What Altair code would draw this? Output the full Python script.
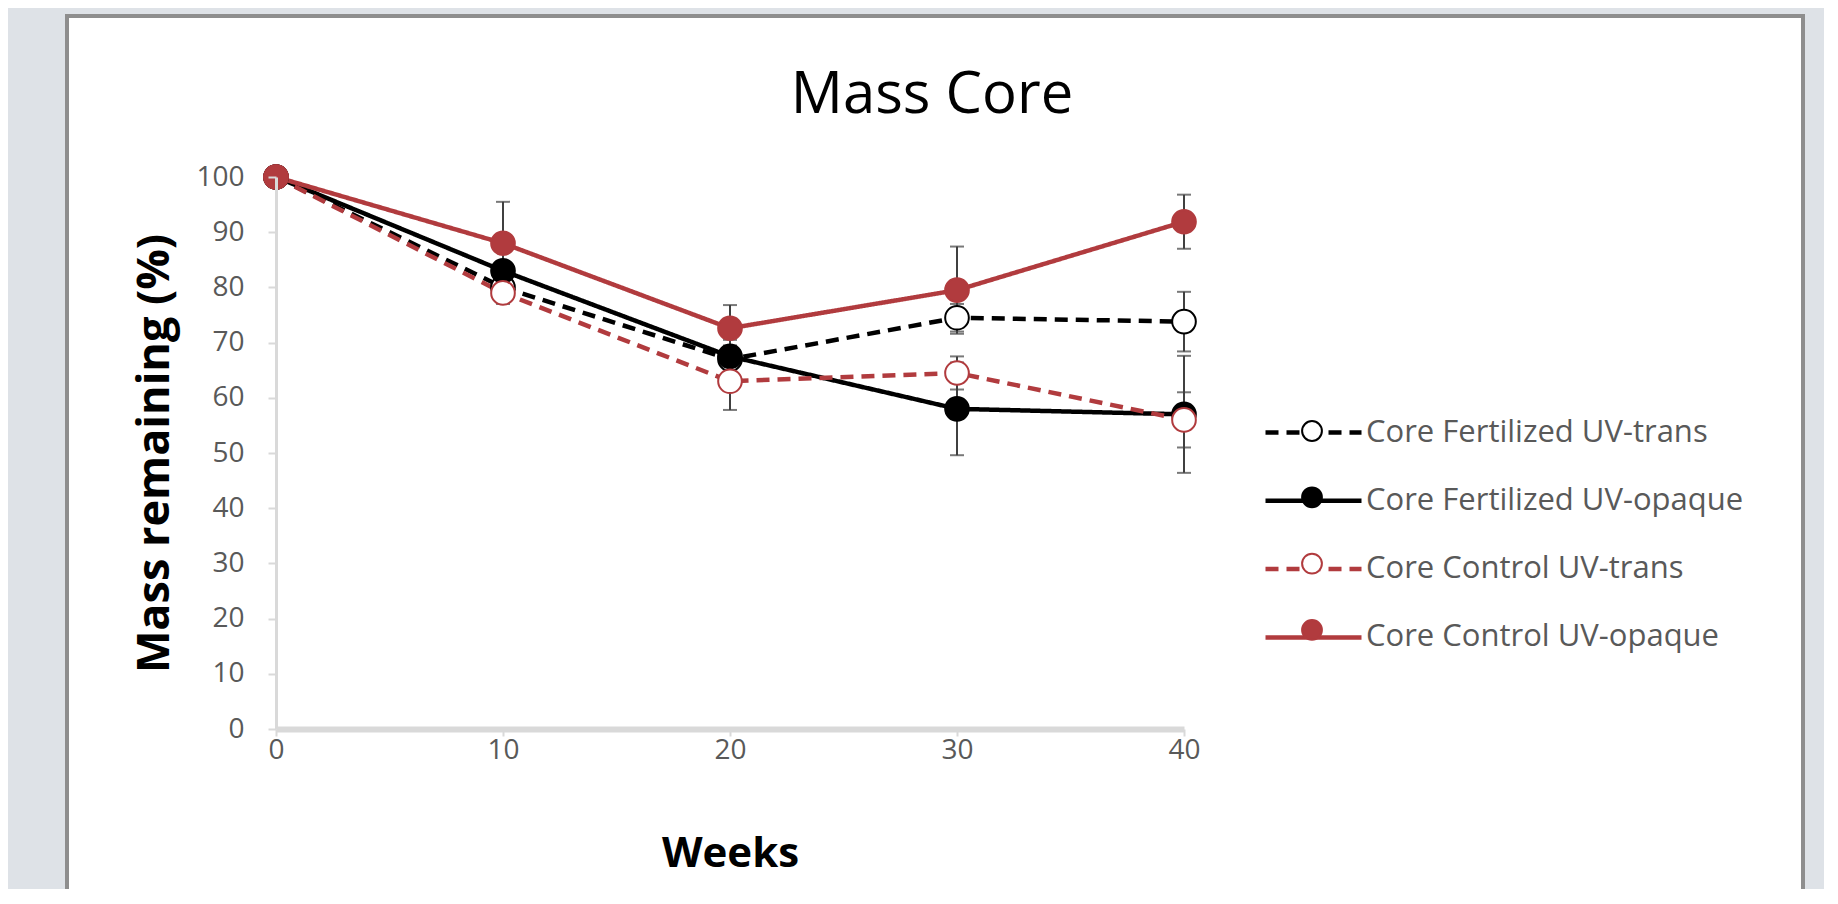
import altair as alt
import pandas as pd

# ---------------- data ----------------
WEEKS = [0, 10, 20, 30, 40]
SERIES = [
    "Core Fertilized UV-trans",
    "Core Fertilized UV-opaque",
    "Core Control UV-trans",
    "Core Control UV-opaque",
]
FERT_TRANS = [100, 80, 67, 74.5, 73.8]
FERT_OPAQUE = [100, 83, 67.5, 58, 57]
CTRL_TRANS = [100, 79, 63, 64.5, 56]
CTRL_OPAQUE = [100, 88, 72.6, 79.5, 91.9]
ERR_FERT_TRANS = [0, 2, 2.5, 2.5, 5.4]
ERR_FERT_OPAQUE = [0, 1.5, 3, 8.4, 10.6]
ERR_CTRL_TRANS = [0, 2, 5.2, 3, 5]
ERR_CTRL_OPAQUE = [0, 7.5, 4.2, 7.9, 4.9]
X_TICKS = [0, 10, 20, 30, 40]
Y_TICKS = [0, 10, 20, 30, 40, 50, 60, 70, 80, 90, 100]

RED = "#b13b3e"
COLORS = ["#000000", "#000000", RED, RED]
FILLS = ["#ffffff", "#000000", "#ffffff", RED]
DASHES = [[13, 8], [1, 0], [13, 8], [1, 0]]

values = [FERT_TRANS, FERT_OPAQUE, CTRL_TRANS, CTRL_OPAQUE]
errors = [ERR_FERT_TRANS, ERR_FERT_OPAQUE, ERR_CTRL_TRANS, ERR_CTRL_OPAQUE]
rows = []
for name, vals, errs in zip(SERIES, values, errors):
    for w, v, e in zip(WEEKS, vals, errs):
        rows.append({"series": name, "series2": name, "week": w, "mass": v,
                     "err": e, "lo": v - e, "hi": v + e})
df = pd.DataFrame(rows)

# ---------------- layout ----------------
W, H = 908, 552
FONT = "Open Sans"
GREY_TXT = "#595959"
AXIS_GREY = "#d9d9d9"

xaxis = alt.Axis(values=X_TICKS, title="Weeks", grid=False, labelFlush=False,
                 zindex=1,
                 domainColor=AXIS_GREY, domainWidth=6, tickColor=AXIS_GREY,
                 tickWidth=2, tickSize=7, labelPadding=0, labelFontSize=28,
                 labelColor=GREY_TXT, labelFont=FONT, titleFont=FONT,
                 titleFontSize=42, titleFontWeight="bold", titleColor="#000000",
                 titleX=W / 2, titleY=124, titleBaseline="middle", titleAlign="center")
yaxis = alt.Axis(values=Y_TICKS, title="Mass remaining (%)", grid=False,
                 zindex=1,
                 domainColor=AXIS_GREY, domainWidth=3, tickColor=AXIS_GREY,
                 tickWidth=2, tickSize=8, labelPadding=24, labelFontSize=28,
                 labelColor=GREY_TXT, labelFont=FONT, titleFont=FONT,
                 titleFontSize=45, titleFontWeight="bold", titleColor="#000000",
                 titleAngle=270, titleX=-122, titleY=H / 2,
                 titleBaseline="middle", titleAlign="center")

X = alt.X("week:Q", scale=alt.Scale(domain=[0, 40], nice=False), axis=xaxis)


def Y(field):
    return alt.Y(f"{field}:Q", scale=alt.Scale(domain=[0, 100], nice=False), axis=yaxis)


LEG_X = 1020
LEG_Y = 238
common_leg = dict(orient="none", legendX=LEG_X, legendY=LEG_Y, title=None,
                  symbolSize=900, labelFontSize=31, labelFont=FONT, labelLimit=0,
                  labelOffset=35, rowPadding=35.3, padding=0, symbolLimit=0,
                  zindex=2)

line_legend = alt.Legend(symbolType="M-3.2,0L3.2,0", symbolStrokeWidth=4.5,
                         labelColor=GREY_TXT, **common_leg)
point_legend = alt.Legend(
    symbolType="M0.66,0A0.66,0.66,0,1,1,-0.66,0A0.66,0.66,0,1,1,0.66,0Z",
    symbolStrokeWidth=2, labelColor="transparent", labelExpr="''", **common_leg)

base = alt.Chart(df)

panel = alt.Chart(pd.DataFrame({"k": [0]})).mark_rect(
    fill="#ffffff", stroke="#8e8e8e", strokeWidth=4
).encode(x=alt.value(-209), x2=alt.value(1527), y=alt.value(-161), y2=alt.value(730))

title = alt.Chart(pd.DataFrame({"t": ["Mass Core"]})).mark_text(
    font=FONT, fontSize=58, color="#000000", align="center", baseline="alphabetic"
).encode(x=alt.value(656), y=alt.value(-64), text="t:N")

lines = base.mark_line(strokeWidth=4.5).encode(
    x=X, y=Y("mass"),
    stroke=alt.Stroke("series:N", scale=alt.Scale(domain=SERIES, range=COLORS),
                      legend=line_legend),
    strokeDash=alt.StrokeDash("series:N", scale=alt.Scale(domain=SERIES, range=DASHES),
                              legend=line_legend),
    order=alt.Order("week:Q"),
)

errs = base.transform_filter("datum.err > 0")
err_rule = errs.mark_rule(color="#404040", strokeWidth=2).encode(
    x=X, y=Y("lo"), y2="hi:Q")
err_lo = errs.mark_tick(color="#404040", thickness=2, size=14, orient="horizontal").encode(
    x=X, y=Y("lo"))
err_hi = errs.mark_tick(color="#404040", thickness=2, size=14, orient="horizontal").encode(
    x=X, y=Y("hi"))

points = base.mark_point(shape="circle", filled=True, opacity=1, size=560,
                         strokeWidth=2).encode(
    x=X, y=Y("mass"),
    stroke=alt.Stroke("series2:N", scale=alt.Scale(domain=SERIES, range=COLORS),
                      legend=point_legend),
    fill=alt.Fill("series2:N", scale=alt.Scale(domain=SERIES, range=FILLS),
                  legend=point_legend),
)

chart = alt.layer(panel, title, lines, err_rule, err_lo, err_hi, points).resolve_scale(
    stroke="independent", fill="independent", strokeDash="independent"
).properties(
    width=W, height=H,
    background="#dee2e7",
    autosize=alt.AutoSizeParams(type="none"),
    padding={"left": 268, "top": 169, "right": 640, "bottom": 160},
).configure_view(stroke=None).configure(font=FONT)

chart.save("out.html", embed_options={"renderer": "svg", "actions": False})
